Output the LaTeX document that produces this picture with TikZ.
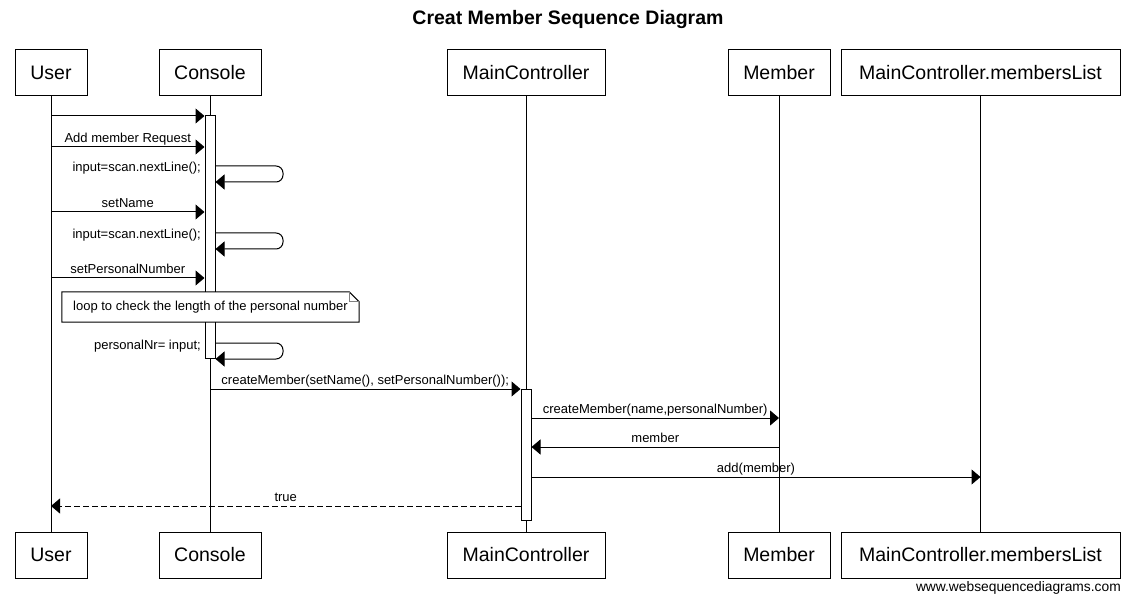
\documentclass[tikz,border=0pt]{standalone}
\usepackage{fontspec}
\setmainfont{Liberation Sans}
\usetikzlibrary{arrows.meta}
\begin{document}
\begin{tikzpicture}[x=1pt,y=-1pt,
  actor/.style={draw, line width=1pt, minimum height=46pt, inner sep=0pt, fill=white,
    font=\fontsize{19.5}{22}\selectfont},
  life/.style={line width=1pt},
  actbar/.style={draw, fill=white, line width=1pt, minimum width=10pt, inner sep=0pt},
  msg/.style={line width=1pt, -{Triangle[length=9pt,width=15pt]}},
  ret/.style={msg, dash pattern=on 6pt off 3pt},
  selfmsg/.style={msg, rounded corners=7pt},
  lbl/.style={font=\fontsize{13}{15}\selectfont, inner sep=0pt, anchor=base, yshift=4.5pt},
  slbl/.style={font=\fontsize{13}{15}\selectfont, inner sep=0pt, anchor=base east},
  notetext/.style={font=\fontsize{13}{15}\selectfont, inner sep=0pt, minimum width=297pt, minimum height=30pt, fill=white},
  noteline/.style={line width=1pt},
  foldline/.style={line width=1pt, draw=gray},
  ]
\useasboundingbox (0,0) rectangle (1134,601);

% title
\node[font=\bfseries\fontsize{19.5}{22}\selectfont] (title) at (568,20) {Creat Member Sequence Diagram};

% participants (top)
\node[actor, minimum width=72pt]  (userT) at (51,73)    {User};
\node[actor, minimum width=102pt] (consT) at (210,73)   {Console};
\node[actor, minimum width=158pt] (mcT)   at (526,73)   {MainController};
\node[actor, minimum width=102pt] (memT)  at (779,73)   {Member};
\node[actor, minimum width=279pt] (listT) at (980.5,73) {MainController.membersList};
% participants (bottom)
\node[actor, minimum width=72pt]  (userB) at (51,555)    {User};
\node[actor, minimum width=102pt] (consB) at (210,555)   {Console};
\node[actor, minimum width=158pt] (mcB)   at (526,555)   {MainController};
\node[actor, minimum width=102pt] (memB)  at (779,555)   {Member};
\node[actor, minimum width=279pt] (listB) at (980.5,555) {MainController.membersList};

% lifelines
\draw[life] (userT) -- (userB);
\draw[life] (consT) -- (consB);
\draw[life] (mcT) -- (mcB);
\draw[life] (memT) -- (memB);
\draw[life] (listT) -- (listB);

% activation bars
\node[actbar, minimum height=242pt] (consA) at (210,237) {};
\node[actbar, minimum height=131pt] (mcA)   at (526,454.5) {};

% messages
\draw[msg] (userT |- 0,116) -- (consA.west |- 0,116);
\draw[msg] (userT |- 0,147) -- node[lbl] {Add member Request} (consA.west |- 0,147);
\draw[selfmsg] (consA.east |- 0,166) -- (283,166) -- (283,182) -- (consA.east |- 0,182);
\node[slbl] (l1) at (201,172) {input=scan.nextLine();};
\draw[msg] (userT |- 0,212) -- node[lbl] {setName} (consA.west |- 0,212);
\draw[selfmsg] (consA.east |- 0,233) -- (283,233) -- (283,249) -- (consA.east |- 0,249);
\node[slbl] (l2) at (201,239) {input=scan.nextLine();};
\draw[msg] (userT |- 0,278) -- node[lbl] {setPersonalNumber} (consA.west |- 0,278);

% note
\node[notetext] (note) at (210.5,307) {loop to check the length of the personal number};
\draw[noteline] (note.north west) -- ([xshift=-10pt]note.north east) -- ([yshift=-10pt]note.north east)
  -- (note.south east) -- (note.south west) -- cycle;
\draw[foldline] ([xshift=-10pt]note.north east) -- ([xshift=-10pt,yshift=-10pt]note.north east) -- ([yshift=-10pt]note.north east);

\draw[selfmsg] (consA.east |- 0,343) -- (283,343) -- (283,359) -- (consA.east |- 0,359);
\node[slbl] (l3) at (201,349) {personalNr= input;};

\draw[msg] (consT |- 0,389) -- node[lbl] {createMember(setName(), setPersonalNumber());} (mcA.west |- 0,389);
\draw[msg] (mcA.east |- 0,418) -- node[lbl] {createMember(name,personalNumber)} (memT |- 0,418);
\draw[msg] (memT |- 0,447) -- node[lbl] {member} (mcA.east |- 0,447);
\draw[msg] (mcA.east |- 0,477) -- node[lbl] {add(member)} (listT |- 0,477);
\draw[ret] (mcA.west |- 0,506) -- node[lbl] {true} (userT |- 0,506);

% watermark
\node[font=\fontsize{13.8}{16}\selectfont, inner sep=0pt, anchor=base east] (wm) at (1121,591) {www.websequencediagrams.com};
\end{tikzpicture}
\end{document}
